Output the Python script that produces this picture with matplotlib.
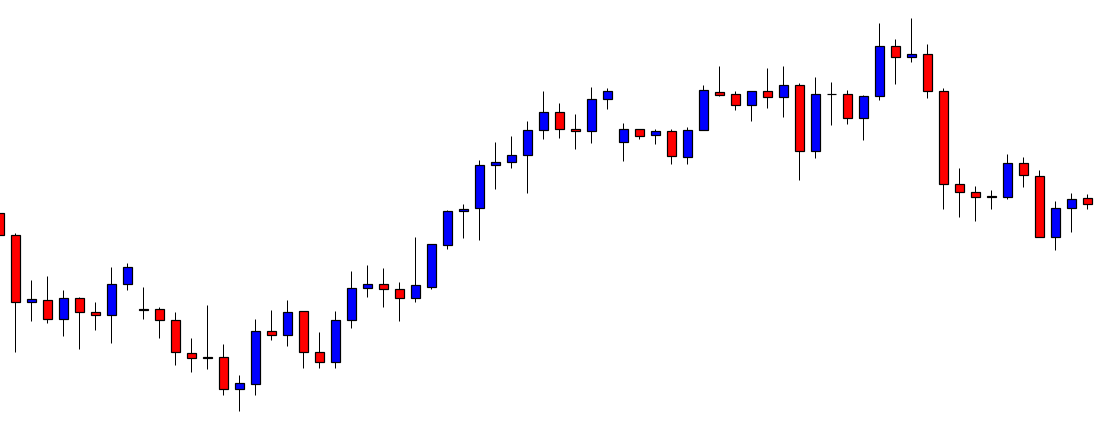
import matplotlib
matplotlib.use("Agg")
import matplotlib.pyplot as plt
import numpy as np

# OHLC values (arbitrary price units)
opens = [223.7, 201.7, 134.7, 136.7, 117.7, 138.7, 124.7, 121.7, 152.7, 127.3,
         127.7, 116.7, 83.7, 79.3, 79.7, 47.7, 53.3, 105.7, 101.7, 125.7,
         84.7, 74.7, 116.7, 148.7, 152.7, 147.7, 138.7, 149.7, 191.7, 225.7,
         228.7, 271.7, 274.7, 281.7, 306.7, 324.7, 307.7, 305.7, 337.7, 294.7,
         307.7, 301.7, 305.7, 279.7, 306.7, 344.7, 342.7, 331.7, 345.7, 339.7,
         351.7, 285.7, 342.7, 342.7, 318.7, 340.7, 390.7, 379.7, 382.7, 345.7,
         252.7, 244.7, 240.0, 239.7, 273.7, 260.7, 199.7, 228.7, 238.7]
highs = [227.0, 203.7, 157.0, 161.0, 147.0, 139.7, 135.0, 170.0, 174.0, 150.0,
         130.0, 125.0, 99.0, 132.0, 93.0, 62.0, 118.0, 127.0, 137.0, 125.7,
         105.0, 126.0, 166.0, 172.0, 169.0, 155.0, 200.0, 192.7, 227.0, 233.0,
         277.0, 295.0, 301.0, 316.0, 346.0, 334.0, 323.0, 350.0, 349.0, 314.0,
         307.7, 307.7, 307.7, 309.7, 351.7, 370.7, 345.7, 345.7, 368.7, 371.0,
         353.7, 359.7, 354.7, 346.7, 341.7, 413.7, 397.7, 418.7, 392.7, 348.7,
         268.7, 250.7, 246.7, 282.7, 279.7, 266.7, 235.7, 243.7, 242.7]
lows = [199.0, 85.3, 116.3, 114.3, 101.3, 88.3, 107.3, 94.3, 147.3, 118.3,
        99.3, 72.3, 65.3, 67.7, 42.3, 26.3, 42.3, 96.7, 91.3, 69.3,
        68.7, 68.7, 109.3, 140.3, 130.3, 116.3, 135.3, 148.3, 188.3, 199.3,
        197.3, 248.3, 269.3, 244.3, 298.3, 299.3, 288.3, 294.3, 328.3, 276.3,
        297.7, 293.3, 272.7, 272.7, 306.7, 340.7, 326.7, 316.5, 328.7, 319.7,
        256.7, 278.7, 311.7, 312.7, 296.7, 336.7, 352.7, 374.7, 338.7, 227.7,
        220.3, 215.7, 228.3, 237.7, 250.3, 199.7, 186.7, 204.7, 227.7]
closes = [201.7, 134.7, 137.7, 117.7, 138.7, 124.7, 121.7, 152.7, 169.7, 127.3,
          116.7, 84.7, 78.7, 79.3, 47.7, 53.7, 105.7, 101.7, 124.7, 84.7,
          74.7, 116.7, 148.7, 152.7, 147.7, 138.7, 151.7, 192.7, 225.7, 227.7,
          271.7, 274.7, 281.7, 306.7, 324.7, 307.7, 305.7, 337.7, 345.7, 307.7,
          300.7, 305.7, 280.7, 306.7, 346.7, 341.7, 331.7, 345.7, 339.7, 351.7,
          285.7, 342.7, 342.7, 318.7, 340.7, 390.7, 379.7, 382.7, 345.7, 252.7,
          244.7, 239.7, 240.0, 273.7, 261.7, 199.7, 228.7, 237.7, 232.7]

o = np.array(opens)
h = np.array(highs)
l = np.array(lows)
c = np.array(closes)
x = np.arange(len(o))

UP = "#0000ff"
DOWN = "#ff0000"

fig = plt.figure(figsize=(11.01, 4.37), dpi=100)
ax = fig.add_axes([0, 0, 1, 1])
ax.set_facecolor("white")
fig.patch.set_facecolor("white")

px = 0.72  # one pixel in points at dpi=100

# wicks
ax.vlines(x, l, h, color="black", linewidth=1.0 * px, zorder=1)

# bodies
colors = [UP if cc > oo else DOWN for oo, cc in zip(o, c)]
bottoms = np.minimum(o, c)
heights = np.abs(c - o)
heights = np.where(heights < 0.8, 0.8, heights)
ax.bar(x, heights, bottom=bottoms, width=0.5625, color=colors,
       edgecolor="black", linewidth=1.2 * px, zorder=2)

ax.set_xlim(0.04375, 68.856)
ax.set_ylim(0, 437)
ax.axis("off")

fig.savefig("out.png", dpi=100, facecolor="white")
